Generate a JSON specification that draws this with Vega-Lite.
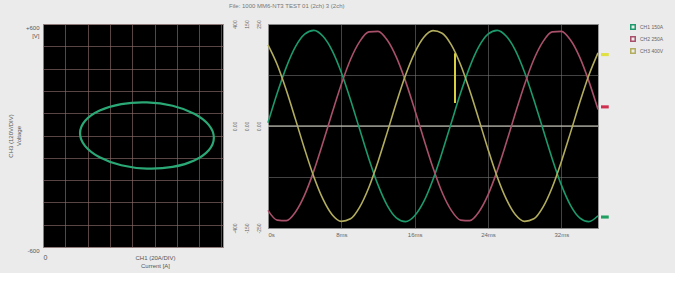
{
  "$schema": "https://vega.github.io/schema/vega-lite/v6.json",
  "background": "#ebebeb",
  "padding": {"left": 6, "top": 3, "right": 14, "bottom": 4},
  "spacing": 7,
  "title": {"text": "File: 1000 MM6-NT3  TEST 01 (2ch) 3 (2ch)", "fontSize": 6, "color": "#777", "anchor": "start", "dx": 222, "offset": 10, "fontWeight": "normal"},
  "datasets": {
    "ellipse": [
      {"i": 0, "x": 7.66, "y": -12},
      {"i": 1, "x": 7.43, "y": 57},
      {"i": 2, "x": 6.78, "y": 117},
      {"i": 3, "x": 5.81, "y": 160},
      {"i": 4, "x": 4.66, "y": 178},
      {"i": 5, "x": 3.51, "y": 169},
      {"i": 6, "x": 2.54, "y": 134},
      {"i": 7, "x": 1.89, "y": 79},
      {"i": 8, "x": 1.66, "y": 12},
      {"i": 9, "x": 1.89, "y": -57},
      {"i": 10, "x": 2.54, "y": -117},
      {"i": 11, "x": 3.51, "y": -160},
      {"i": 12, "x": 4.66, "y": -178},
      {"i": 13, "x": 5.81, "y": -169},
      {"i": 14, "x": 6.78, "y": -134},
      {"i": 15, "x": 7.43, "y": -79}
    ],
    "waves": [
      {"t": 0, "CH1": 0.13, "CH2": -3.31, "CH3": 3.18},
      {"t": 1, "CH1": 1.28, "CH2": -3.69, "CH3": 2.41},
      {"t": 2, "CH1": 2.31, "CH2": -3.71, "CH3": 1.40},
      {"t": 3, "CH1": 3.11, "CH2": -3.37, "CH3": 0.26},
      {"t": 4, "CH1": 3.60, "CH2": -2.70, "CH3": -0.91},
      {"t": 5, "CH1": 3.75, "CH2": -1.76, "CH3": -1.99},
      {"t": 6, "CH1": 3.52, "CH2": -0.65, "CH3": -2.87},
      {"t": 7, "CH1": 2.96, "CH2": 0.52, "CH3": -3.48},
      {"t": 8, "CH1": 2.10, "CH2": 1.64, "CH3": -3.74},
      {"t": 9, "CH1": 1.03, "CH2": 2.61, "CH3": -3.64},
      {"t": 10, "CH1": -0.13, "CH2": 3.31, "CH3": -3.18},
      {"t": 11, "CH1": -1.28, "CH2": 3.69, "CH3": -2.41},
      {"t": 12, "CH1": -2.31, "CH2": 3.71, "CH3": -1.40},
      {"t": 13, "CH1": -3.11, "CH2": 3.37, "CH3": -0.26},
      {"t": 14, "CH1": -3.60, "CH2": 2.70, "CH3": 0.91},
      {"t": 15, "CH1": -3.75, "CH2": 1.76, "CH3": 1.99},
      {"t": 16, "CH1": -3.52, "CH2": 0.65, "CH3": 2.87},
      {"t": 17, "CH1": -2.96, "CH2": -0.52, "CH3": 3.48},
      {"t": 18, "CH1": -2.10, "CH2": -1.64, "CH3": 3.74},
      {"t": 19, "CH1": -1.03, "CH2": -2.61, "CH3": 3.64},
      {"t": 20, "CH1": 0.13, "CH2": -3.31, "CH3": 3.18},
      {"t": 21, "CH1": 1.28, "CH2": -3.69, "CH3": 2.41},
      {"t": 22, "CH1": 2.31, "CH2": -3.71, "CH3": 1.40},
      {"t": 23, "CH1": 3.11, "CH2": -3.37, "CH3": 0.26},
      {"t": 24, "CH1": 3.60, "CH2": -2.70, "CH3": -0.91},
      {"t": 25, "CH1": 3.75, "CH2": -1.76, "CH3": -1.99},
      {"t": 26, "CH1": 3.52, "CH2": -0.65, "CH3": -2.87},
      {"t": 27, "CH1": 2.96, "CH2": 0.52, "CH3": -3.48},
      {"t": 28, "CH1": 2.10, "CH2": 1.64, "CH3": -3.74},
      {"t": 29, "CH1": 1.03, "CH2": 2.61, "CH3": -3.64},
      {"t": 30, "CH1": -0.13, "CH2": 3.31, "CH3": -3.18},
      {"t": 31, "CH1": -1.28, "CH2": 3.69, "CH3": -2.41},
      {"t": 32, "CH1": -2.31, "CH2": 3.71, "CH3": -1.40},
      {"t": 33, "CH1": -3.11, "CH2": 3.37, "CH3": -0.26},
      {"t": 34, "CH1": -3.60, "CH2": 2.70, "CH3": 0.91},
      {"t": 35, "CH1": -3.75, "CH2": 1.76, "CH3": 1.99},
      {"t": 36, "CH1": -3.52, "CH2": 0.65, "CH3": 2.87}
    ],
    "glitch": [{"t": 20.4, "v1": 2.85, "v2": 0.9, "key": "CH3"}],
    "zero": [{"v": 0}],
    "markers": [
      {"t": 36.75, "v": 2.8, "key": "CH3"},
      {"t": 36.75, "v": 0.75, "key": "CH2"},
      {"t": 36.75, "v": -3.57, "key": "CH1"}
    ]
  },
  "hconcat": [
    {
      "width": 180,
      "height": 223,
      "data": {"name": "ellipse"},
      "mark": {"type": "line", "interpolate": "cardinal-closed", "color": "#2aa876", "strokeWidth": 2.2, "clip": true},
      "encoding": {
        "order": {"field": "i", "type": "quantitative"},
        "x": {
          "field": "x", "type": "quantitative",
          "scale": {"domain": [0, 8.07], "nice": false, "zero": false},
          "axis": {
            "values": [0, 1, 2, 3, 4, 5, 6, 7, 8],
            "labelExpr": "datum.value == 0 ? '0' : ''",
            "ticks": false, "domain": false,
            "gridColor": "#8a6a6a", "gridOpacity": 0.65,
            "labelFontSize": 7, "labelColor": "#555", "labelPadding": 6,
            "title": ["CH1 (20A/DIV)", "Current [A]"],
            "titleFontSize": 6, "titleFontWeight": "normal", "titleColor": "#555",
            "titleX": 112, "titlePadding": -6
          }
        },
        "y": {
          "field": "y", "type": "quantitative",
          "scale": {"domain": [-600, 600], "nice": false},
          "axis": {
            "values": [-600, -480, -360, -240, -120, 0, 120, 240, 360, 480, 600],
            "labelExpr": "datum.value == 600 ? ['+600', '[V]'] : (datum.value == -600 ? '-600' : '')",
            "ticks": false, "domain": false,
            "gridColor": "#8a6a6a", "gridOpacity": 0.65,
            "labelFontSize": 6, "labelColor": "#555", "labelPadding": 4, "labelBaseline": "top",
            "title": ["CH3 (120V/DIV)", "Voltage"],
            "titleFontSize": 6, "titleFontWeight": "normal", "titleColor": "#555", "titlePadding": 4
          }
        }
      }
    },
    {
      "width": 330,
      "height": 204,
      "layer": [
        {
          "data": {"name": "zero"},
          "mark": {"type": "rule", "color": "#d8d8c8", "strokeWidth": 1},
          "encoding": {"y": {"field": "v", "type": "quantitative", "scale": {"domain": [-4, 4]}}}
        },
        {
          "data": {"name": "waves"},
          "transform": [{"fold": ["CH1", "CH2", "CH3"]}],
          "mark": {"type": "line", "interpolate": "monotone", "strokeWidth": 1.6},
          "encoding": {
            "x": {
              "field": "t", "type": "quantitative",
              "scale": {"domain": [0, 36], "nice": false},
              "axis": {
                "values": [0,1,2,3,4,5,6,7,8,9,10,11,12,13,14,15,16,17,18,19,20,21,22,23,24,25,26,27,28,29,30,31,32,33,34,35,36],
                "labelExpr": "datum.value % 4 == 0 ? (datum.value == 0 ? '0s' : datum.value + 'ms') : ''",
                "ticks": false, "domain": false,
                "gridColor": "#7a7a7a", "gridOpacity": 0.55,
                "labelFontSize": 6, "labelColor": "#666", "labelPadding": 3,
                "title": null
              }
            },
            "y": {
              "field": "value", "type": "quantitative",
              "scale": {"domain": [-4, 4], "nice": false},
              "axis": {
                "values": [-4, -3, -2, -1, 0, 1, 2, 3, 4],
                "labelExpr": "datum.value == 4 ? ['400', '150', '250'] : (datum.value == 0 ? ['0.00', '0.00', '0.00'] : (datum.value == -4 ? ['-400', '-150', '-250'] : ''))",
                "labelAngle": -90, "labelAlign": "center", "labelBaseline": "top",
                "labelBound": false, "labelOverlap": false,
                "ticks": false, "domain": false,
                "gridColor": "#7a7a7a", "gridOpacity": 0.55,
                "labelFontSize": 5, "labelColor": "#666", "labelPadding": 36, "labelLineHeight": 12,
                "title": null
              }
            },
            "color": {
              "field": "key", "type": "nominal",
              "scale": {"domain": ["CH1", "CH2", "CH3"], "range": ["#1c9a6c", "#a9506a", "#b3ad5e"]},
              "legend": {
                "title": null, "orient": "right", "offset": 20,
                "labelExpr": "datum.label == 'CH1' ? 'CH1 150A' : (datum.label == 'CH2' ? 'CH2 250A' : 'CH3 400V')",
                "symbolType": "square", "symbolSize": 20, "labelFontSize": 5, "labelColor": "#666",
                "rowPadding": 0, "symbolOffset": 0
              }
            }
          }
        },
        {
          "data": {"name": "glitch"},
          "mark": {"type": "rule", "color": "#d8d040", "strokeWidth": 2},
          "encoding": {
            "x": {"field": "t", "type": "quantitative"},
            "y": {"field": "v1", "type": "quantitative"},
            "y2": {"field": "v2"}
          }
        },
        {
          "data": {"name": "markers"},
          "mark": {"type": "point", "shape": "M-1,-0.4L1,-0.4L1,0.4L-1,0.4Z", "filled": true, "size": 60, "opacity": 1, "clip": false},
          "encoding": {
            "x": {"field": "t", "type": "quantitative"},
            "y": {"field": "v", "type": "quantitative"},
            "fill": {
              "field": "key", "type": "nominal",
              "scale": {"domain": ["CH1", "CH2", "CH3"], "range": ["#1fa060", "#d03050", "#e0e040"]},
              "legend": null
            }
          }
        }
      ],
      "resolve": {"scale": {"fill": "independent"}}
    }
  ],
  "config": {
    "view": {"fill": "#000000", "stroke": "#9a9a9a", "strokeWidth": 1},
    "font": "Liberation Sans"
  }
}
